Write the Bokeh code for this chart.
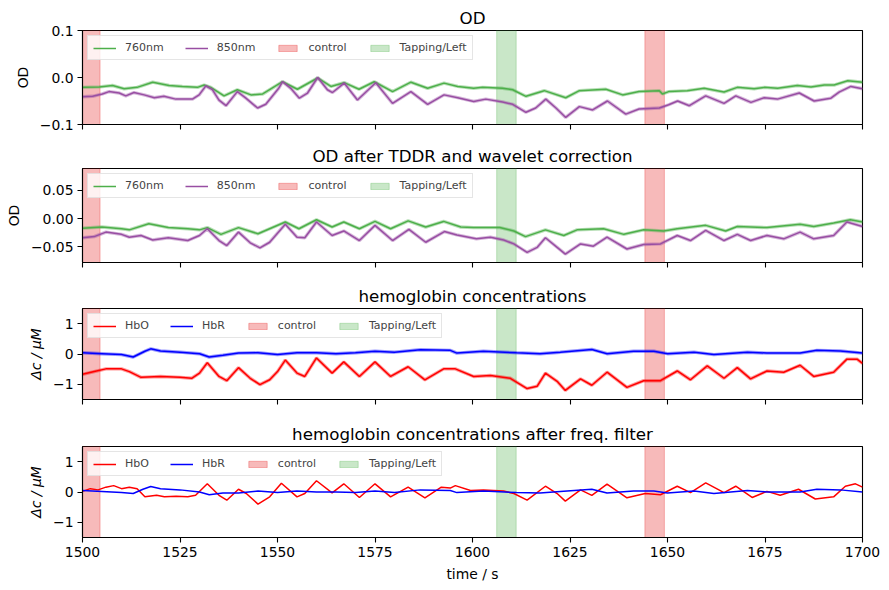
from bokeh.plotting import figure
from bokeh.layouts import column
from bokeh.models import Range1d, FixedTicker, Legend, LegendItem
from bokeh.embed import file_html
from bokeh.resources import INLINE

FONT = "DejaVu Sans"

# ---- stimulus annotations (onset / duration in s) ----
control_onsets = [1499.5, 1644.2]
tapping_onsets = [1606.2]
stim_duration = 5.0

# ---- raw optical density, (time s, OD) ----
od760 = [(1500, -0.021), (1504.3, -0.020), (1507.7, -0.017), (1510.7, -0.024), (1514, -0.021),
         (1518, -0.010), (1522.2, -0.017), (1525.6, -0.019), (1529.5, -0.021), (1531.2, -0.016),
         (1532.9, -0.021), (1536.3, -0.039), (1539.7, -0.026), (1543.2, -0.037), (1546.2, -0.035),
         (1551.3, -0.009), (1555.1, -0.025), (1560.3, -0.001), (1563.7, -0.019), (1567.1, -0.011),
         (1570.9, -0.025), (1574.8, -0.009), (1579.5, -0.030), (1584.2, -0.010), (1588.5, -0.023),
         (1592.7, -0.012), (1596.2, -0.019), (1600.3, -0.023), (1602.6, -0.021), (1607.7, -0.023),
         (1610.3, -0.026), (1613.7, -0.040), (1618.4, -0.028), (1623.9, -0.043), (1627.4, -0.028),
         (1634.2, -0.025), (1638.5, -0.037), (1642.7, -0.030), (1647.9, -0.028), (1648.7, -0.035),
         (1650.3, -0.030), (1655.1, -0.028), (1659.4, -0.023), (1664.5, -0.031), (1667.9, -0.021),
         (1672.2, -0.024), (1674.8, -0.021), (1678.2, -0.023), (1683.3, -0.017), (1686.8, -0.020),
         (1690.2, -0.016), (1692.7, -0.016), (1696.2, -0.007), (1700, -0.010)]

od850 = [(1500, -0.041), (1502.6, -0.040), (1505.1, -0.035), (1506.8, -0.030), (1509.4, -0.033),
         (1511.1, -0.039), (1513.2, -0.032), (1515.8, -0.037), (1518.4, -0.043), (1520.9, -0.040),
         (1523.9, -0.046), (1528.2, -0.046), (1529.9, -0.037), (1531.6, -0.018), (1533.3, -0.026),
         (1535, -0.048), (1536.8, -0.060), (1539.7, -0.030), (1541.9, -0.044), (1544.9, -0.065),
         (1547, -0.057), (1550.3, -0.023), (1551.3, -0.009), (1553.4, -0.023), (1555.6, -0.044),
         (1557.7, -0.033), (1560.3, 0.000), (1562.8, -0.026), (1564.1, -0.032), (1567.1, -0.012),
         (1570.5, -0.048), (1575.2, -0.011), (1579.5, -0.055), (1584.2, -0.030), (1588.5, -0.057),
         (1592.7, -0.037), (1596.2, -0.043), (1600.3, -0.051), (1603.4, -0.046), (1607.7, -0.052),
         (1610.3, -0.057), (1613.7, -0.074), (1616.2, -0.065), (1618.8, -0.046), (1621.4, -0.065),
         (1623.9, -0.085), (1627.4, -0.062), (1630.8, -0.069), (1634.6, -0.050), (1639.3, -0.078),
         (1642.7, -0.067), (1647.9, -0.065), (1650.3, -0.058), (1652.6, -0.050), (1655.6, -0.060),
         (1659.8, -0.039), (1664.5, -0.055), (1667.5, -0.039), (1671.4, -0.053), (1674.8, -0.043),
         (1678.2, -0.046), (1683.8, -0.033), (1687.6, -0.050), (1691.9, -0.044), (1694, -0.031),
         (1697, -0.019), (1700, -0.024)]

# ---- optical density after TDDR + wavelet correction ----
tddr760 = [(1500, -0.017), (1505, -0.015), (1510, -0.018), (1512, -0.020), (1517, -0.009),
           (1522, -0.016), (1527, -0.018), (1530, -0.020), (1532, -0.016), (1535.5, -0.028),
           (1540, -0.016), (1545, -0.027), (1552, -0.006), (1555.5, -0.018), (1560, -0.002),
           (1564, -0.015), (1567, -0.006), (1571, -0.018), (1575, -0.005), (1579, -0.018),
           (1583.5, -0.004), (1588, -0.015), (1592.6, -0.005), (1597, -0.015), (1600.3, -0.016),
           (1607, -0.016), (1610.6, -0.022), (1613.6, -0.032), (1618.7, -0.020), (1623.4, -0.030),
           (1626.8, -0.020), (1633.6, -0.018), (1638.8, -0.028), (1643.9, -0.020), (1649, -0.022),
           (1652.5, -0.018), (1659.8, -0.012), (1664.9, -0.022), (1667.9, -0.014), (1675.5, -0.016),
           (1684, -0.010), (1687.5, -0.014), (1692.6, -0.008), (1696.9, -0.002), (1700, -0.006)]

tddr850 = [(1500, -0.034), (1503, -0.032), (1506, -0.024), (1510, -0.028), (1512, -0.033),
           (1515, -0.030), (1518, -0.038), (1522, -0.034), (1527, -0.039), (1530, -0.030),
           (1532, -0.018), (1535, -0.039), (1537, -0.048), (1540, -0.024), (1543, -0.043),
           (1545.5, -0.052), (1548, -0.042), (1552, -0.010), (1555, -0.033), (1557, -0.034),
           (1560, -0.006), (1564, -0.030), (1567, -0.022), (1571, -0.039), (1575, -0.012),
           (1579.5, -0.039), (1583.7, -0.019), (1588, -0.042), (1592.8, -0.023), (1596, -0.029),
           (1601, -0.036), (1604.6, -0.033), (1608, -0.038), (1610.6, -0.045), (1614, -0.060),
           (1616.6, -0.051), (1618.7, -0.034), (1621.7, -0.051), (1623.8, -0.063), (1627.7, -0.045),
           (1631, -0.049), (1634.5, -0.033), (1639.6, -0.054), (1643.9, -0.046), (1648.2, -0.045),
           (1652.5, -0.030), (1655.9, -0.039), (1659.8, -0.021), (1664.5, -0.039), (1667.9, -0.028),
           (1671.3, -0.039), (1675.5, -0.030), (1679.8, -0.036), (1684, -0.024), (1687.5, -0.036),
           (1692.6, -0.030), (1696, -0.006), (1700, -0.014)]

# ---- hemoglobin concentrations (µM) ----
hbo = [(1500, -0.67), (1503, -0.58), (1506, -0.49), (1510, -0.49), (1512, -0.58), (1515, -0.77),
       (1520, -0.74), (1525, -0.77), (1528, -0.80), (1530, -0.63), (1532, -0.29), (1535, -0.74),
       (1537, -0.88), (1540, -0.45), (1543, -0.80), (1545.5, -1.01), (1548, -0.85), (1550, -0.58),
       (1552, -0.20), (1555, -0.63), (1557, -0.74), (1560, -0.13), (1564, -0.63), (1567, -0.26),
       (1571, -0.74), (1575, -0.26), (1579, -0.74), (1583.5, -0.42), (1587.8, -0.85),
       (1592.6, -0.49), (1595.6, -0.49), (1600.3, -0.74), (1604.6, -0.71), (1609.7, -0.80),
       (1614, -1.14), (1616.6, -1.06), (1618.7, -0.63), (1621.7, -0.90), (1623.8, -1.20),
       (1627.7, -0.82), (1630.6, -1.03), (1634.5, -0.60), (1639.6, -1.10), (1643.9, -0.88),
       (1648.2, -0.88), (1652.5, -0.56), (1655.9, -0.85), (1660.2, -0.39), (1664.5, -0.80),
       (1667.9, -0.45), (1671.3, -0.82), (1675.5, -0.56), (1679.8, -0.60), (1684, -0.37),
       (1687.5, -0.74), (1692.6, -0.60), (1696, -0.17), (1698.6, -0.17), (1700, -0.31)]

hbr = [(1500, 0.04), (1505, 0.01), (1510, -0.02), (1513, -0.10), (1516, 0.09), (1517.5, 0.17),
       (1520, 0.10), (1525, 0.06), (1530, 0.01), (1532.5, -0.10), (1536, -0.04), (1540, 0.03),
       (1545, 0.04), (1550, -0.02), (1555, 0.04), (1560, 0.04), (1565, 0.01), (1570, 0.04),
       (1575, 0.09), (1580, 0.06), (1586.6, 0.14), (1594.3, 0.12), (1596, 0.03), (1602.8, 0.09),
       (1611.3, 0.04), (1617.3, 0.01), (1622.5, 0.06), (1630.6, 0.15), (1634.5, 0.01),
       (1641.3, 0.09), (1646.5, 0.09), (1650, 0.01), (1656.8, 0.06), (1661.9, -0.02),
       (1670.5, 0.06), (1675.5, 0.03), (1684, 0.03), (1688.3, 0.12), (1694.3, 0.10), (1700, 0.03)]

# ---- hemoglobin concentrations after band-pass filter (µM) ----
hbo_filt = [(1500, 0.02), (1502, 0.11), (1504, 0.07), (1506, 0.16), (1508, 0.21), (1510, 0.11),
            (1512, 0.16), (1514, 0.11), (1516, -0.16), (1519, -0.11), (1521, -0.16), (1524, -0.14),
            (1527, -0.16), (1529, -0.11), (1532, 0.27), (1535, -0.11), (1537, -0.27), (1540, 0.09),
            (1542, -0.05), (1545, -0.40), (1548, -0.16), (1551, 0.29), (1555, -0.16), (1557, -0.05),
            (1560, 0.37), (1564, -0.03), (1567, 0.27), (1571, -0.18), (1575, 0.27), (1579, -0.16),
            (1583.5, 0.16), (1587.8, -0.19), (1592, 0.16), (1594.3, 0.13), (1595.6, 0.21),
            (1599.5, 0.05), (1602.8, 0.07), (1608, 0.03), (1610.6, -0.05), (1614, -0.27),
            (1618.7, 0.19), (1621.7, -0.05), (1623.8, -0.30), (1627.7, 0.07), (1630.6, -0.11),
            (1634.5, 0.26), (1639.6, -0.19), (1644.3, -0.05), (1648.2, -0.09), (1652.5, 0.19),
            (1655.9, -0.02), (1659.8, 0.30), (1664.5, -0.02), (1667.5, 0.19), (1671.7, -0.18),
            (1675.5, 0.02), (1678.9, -0.11), (1683.6, 0.09), (1687.9, -0.23), (1692.6, -0.16),
            (1695.6, 0.19), (1698.2, 0.27), (1700, 0.16)]

hbr_filt = [(1500, 0.05), (1505, 0.02), (1510, -0.02), (1513, -0.05), (1515.5, 0.09), (1517.5, 0.18),
            (1520, 0.11), (1525, 0.07), (1530, 0.00), (1532.5, -0.09), (1536, -0.03), (1540, -0.03),
            (1545, 0.03), (1550, -0.02), (1555, 0.03), (1560, 0.00), (1565, 0.00), (1570, -0.02),
            (1575, 0.03), (1580, -0.02), (1586.6, 0.07), (1594.3, 0.05), (1596, -0.02),
            (1602.8, 0.03), (1611.3, -0.02), (1617.3, -0.03), (1622.5, 0.02), (1630.6, 0.09),
            (1634.5, -0.03), (1641.3, 0.03), (1646.5, 0.03), (1650, -0.03), (1656.8, 0.03),
            (1661.9, -0.05), (1670.5, 0.05), (1675.5, 0.00), (1684, 0.00), (1688.3, 0.09),
            (1694.3, 0.07), (1700, 0.00)]

# ---- axes ----
x_ticks = [1500, 1525, 1550, 1575, 1600, 1625, 1650, 1675, 1700]
od_ticks, od_labels = [-0.1, 0.0, 0.1], ["\u22120.1", "0.0", "0.1"]
tddr_ticks, tddr_labels = [-0.05, 0.0, 0.05], ["\u22120.05", "0.00", "0.05"]
hb_ticks, hb_labels = [-1, 0, 1], ["\u22121", "0", "1"]

GREEN, PURPLE = "#4daf4a", "#984ea3"
RED, BLUE = "#ff0000", "#0000ff"
CTRL_COL, TAP_COL = "#e41a1c", "#4daf4a"

x_range = Range1d(1500, 1700)


def panel(title, ylabel, yr, yticks, ylabels, height, top, bottom, last=False, italic=False):
    p = figure(width=889, height=height, x_range=x_range, y_range=Range1d(*yr),
               output_backend="svg", toolbar_location=None, title=title,
               min_border_left=82, min_border_right=27, min_border_top=top,
               min_border_bottom=bottom)
    p.title.align = "center"
    p.title.text_font = FONT
    p.title.text_font_size = "16.7px"
    p.title.text_font_style = "normal"
    p.title.text_color = "black"
    p.title.standoff = 6
    p.xgrid.visible = False
    p.ygrid.visible = False
    p.outline_line_color = "black"
    p.outline_line_width = 1.1
    p.outline_line_alpha = 1
    for ax in (p.xaxis[0], p.yaxis[0]):
        ax.major_tick_out = 5
        ax.major_tick_in = 0
        ax.minor_tick_line_color = None
        ax.major_tick_line_width = 1.1
        ax.axis_line_width = 1.1
        ax.major_label_text_font = FONT
        ax.major_label_text_font_size = "13.9px"
        ax.major_label_text_color = "black"
        ax.major_label_standoff = 4
        ax.axis_label_text_font = FONT
        ax.axis_label_text_font_size = "13.9px"
        ax.axis_label_text_font_style = "normal"
        ax.axis_label_text_color = "black"
        ax.axis_label_standoff = 6
    p.xaxis.ticker = FixedTicker(ticks=x_ticks)
    p.yaxis.ticker = FixedTicker(ticks=yticks)
    p.yaxis.major_label_overrides = dict(zip(yticks, ylabels))
    p.yaxis.axis_label = ylabel
    if italic:
        p.yaxis.axis_label_text_font_style = "italic"
    if last:
        p.xaxis.axis_label = "time / s"
    else:
        # shared time axis: tick marks only, labels on the bottom panel
        p.xaxis.major_label_text_color = None
        p.xaxis.major_label_standoff = 0
    return p


def spans(p, yr):
    lo, hi = yr[0] - 1, yr[1] + 1
    rc = p.quad(left=control_onsets, right=[o + stim_duration for o in control_onsets],
                bottom=lo, top=hi, fill_color=CTRL_COL, fill_alpha=0.3,
                line_color=CTRL_COL, line_alpha=0.3, line_width=1)
    rt = p.quad(left=tapping_onsets, right=[o + stim_duration for o in tapping_onsets],
                bottom=lo, top=hi, fill_color=TAP_COL, fill_alpha=0.3,
                line_color=TAP_COL, line_alpha=0.3, line_width=1)
    return rc, rt


def trace(p, series, color, fuzzy=True):
    t = [a for a, _ in series]
    v = [b for _, b in series]
    if fuzzy:
        p.line(t, v, line_color=color, line_width=3.4, line_alpha=0.4)
    return p.line(t, v, line_color=color, line_width=1.5)


def legend(p, items):
    lg = Legend(items=[LegendItem(label=l, renderers=[r]) for l, r in items],
                location="top_left", orientation="horizontal",
                glyph_width=23, glyph_height=8, label_standoff=9, spacing=21,
                padding=5, margin=5, label_height=11,
                label_text_font=FONT, label_text_font_size="11px",
                border_line_color="#cccccc", border_line_width=1,
                background_fill_color="white", background_fill_alpha=0.8)
    p.add_layout(lg)


od_range = (-0.1, 0.1)
tddr_range = (-0.078, 0.089)
hb_range = (-1.5, 1.5)

p1 = panel("OD", "OD", od_range, od_ticks, od_labels, 140, 30, 16)
c1, g1 = spans(p1, od_range)
a1 = trace(p1, od760, GREEN)
b1 = trace(p1, od850, PURPLE)
legend(p1, [("760nm", a1), ("850nm", b1), ("control", c1), ("Tapping/Left", g1)])

p2 = panel("OD after TDDR and wavelet correction", "OD", tddr_range, tddr_ticks, tddr_labels,
           140, 28, 18)
c2, g2 = spans(p2, tddr_range)
a2 = trace(p2, tddr760, GREEN)
b2 = trace(p2, tddr850, PURPLE)
legend(p2, [("760nm", a2), ("850nm", b2), ("control", c2), ("Tapping/Left", g2)])

p3 = panel("hemoglobin concentrations", "\u0394c / \u03bcM", hb_range, hb_ticks, hb_labels,
           138, 25, 19, italic=True)
c3, g3 = spans(p3, hb_range)
a3 = trace(p3, hbo, RED)
b3 = trace(p3, hbr, BLUE)
legend(p3, [("HbO", a3), ("HbR", b3), ("control", c3), ("Tapping/Left", g3)])

p4 = panel("hemoglobin concentrations after freq. filter", "\u0394c / \u03bcM", hb_range,
           hb_ticks, hb_labels, 172, 25, 53, last=True, italic=True)
c4, g4 = spans(p4, hb_range)
a4 = trace(p4, hbo_filt, RED, fuzzy=False)
b4 = trace(p4, hbr_filt, BLUE, fuzzy=False)
legend(p4, [("HbO", a4), ("HbR", b4), ("control", c4), ("Tapping/Left", g4)])

layout = column(p1, p2, p3, p4, spacing=0)
open("out.html", "w").write(file_html(layout, INLINE))
